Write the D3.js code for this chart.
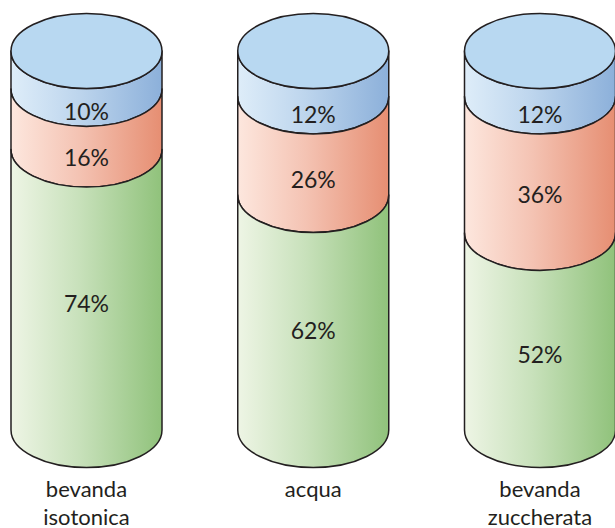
<!DOCTYPE html>
<html>
<head>
<meta charset="utf-8">
<script src="https://cdn.jsdelivr.net/npm/d3@7"></script>
<style>
html,body{margin:0;padding:0;background:#fff;}
svg{display:block;}
text{font-family:Lato,"Open Sans",sans-serif;fill:#231f20;}
</style>
</head>
<body>
<svg id="chart" width="615" height="528"></svg>
<script>
const categories = [["bevanda","isotonica"],["acqua"],["bevanda","zuccherata"]];
const seriesNames = ["blu","rosso","verde"];
const blueValues = [10,12,12];
const redValues = [16,26,36];
const greenValues = [74,62,52];
const series = [blueValues, redValues, greenValues];

const svg = d3.select("#chart");
const rx = 75.5, ry = 37.5;
const x = d3.scalePoint().domain(d3.range(categories.length)).range([86.5, 540]);
const y = d3.scaleLinear().domain([0,100]).range([51, 430]);

const palettes = [
  {left:"#deedf9", right:"#8cb0da", top:"#b8d8f1"},
  {left:"#fde7de", right:"#e68e72"},
  {left:"#eef5e5", right:"#90c27b"}
];
const defs = svg.append("defs");
palettes.forEach((p,i)=>{
  const g = defs.append("linearGradient").attr("id","g"+i)
    .attr("x1","0%").attr("x2","100%").attr("y1","0%").attr("y2","0%");
  g.append("stop").attr("offset","0%").attr("stop-color",p.left);
  g.append("stop").attr("offset","45%").attr("stop-color",d3.interpolateRgb(p.left,p.right)(0.4));
  g.append("stop").attr("offset","100%").attr("stop-color",p.right);
});

categories.forEach((cat,ci)=>{
  const cx = x(ci);
  const grp = svg.append("g");
  let cum = 0;
  const bands = series.map((s,si)=>{
    const v = s[ci];
    const b = {si, v, y0:y(cum), y1:y(cum+v)};
    cum += v;
    return b;
  });
  bands.forEach(b=>{
    const path = `M${cx-rx},${b.y0} A${rx},${ry} 0 0 0 ${cx+rx},${b.y0} L${cx+rx},${b.y1} A${rx},${ry} 0 0 1 ${cx-rx},${b.y1} Z`;
    grp.append("path").attr("d",path).attr("fill",`url(#g${b.si})`)
      .attr("stroke","#231f20").attr("stroke-width",1.5).attr("stroke-linejoin","round");
    const h = b.y1 - b.y0;
    const off = 45 - 0.115*h;
    grp.append("text").attr("x",cx).attr("y",(b.y0+b.y1)/2+off)
      .attr("text-anchor","middle").attr("dominant-baseline","central")
      .attr("font-size",23).text(b.v+"%");
  });
  grp.append("ellipse").attr("cx",cx).attr("cy",y(0)).attr("rx",rx).attr("ry",ry)
    .attr("fill",palettes[0].top).attr("stroke","#231f20").attr("stroke-width",1.5);
  const t = svg.append("text").attr("x",cx).attr("y",497).attr("text-anchor","middle").attr("font-size",22);
  cat.forEach((line,li)=>{
    t.append("tspan").attr("x",cx).attr("dy",li===0?0:27.5).text(line);
  });
});
</script>
</body>
</html>
